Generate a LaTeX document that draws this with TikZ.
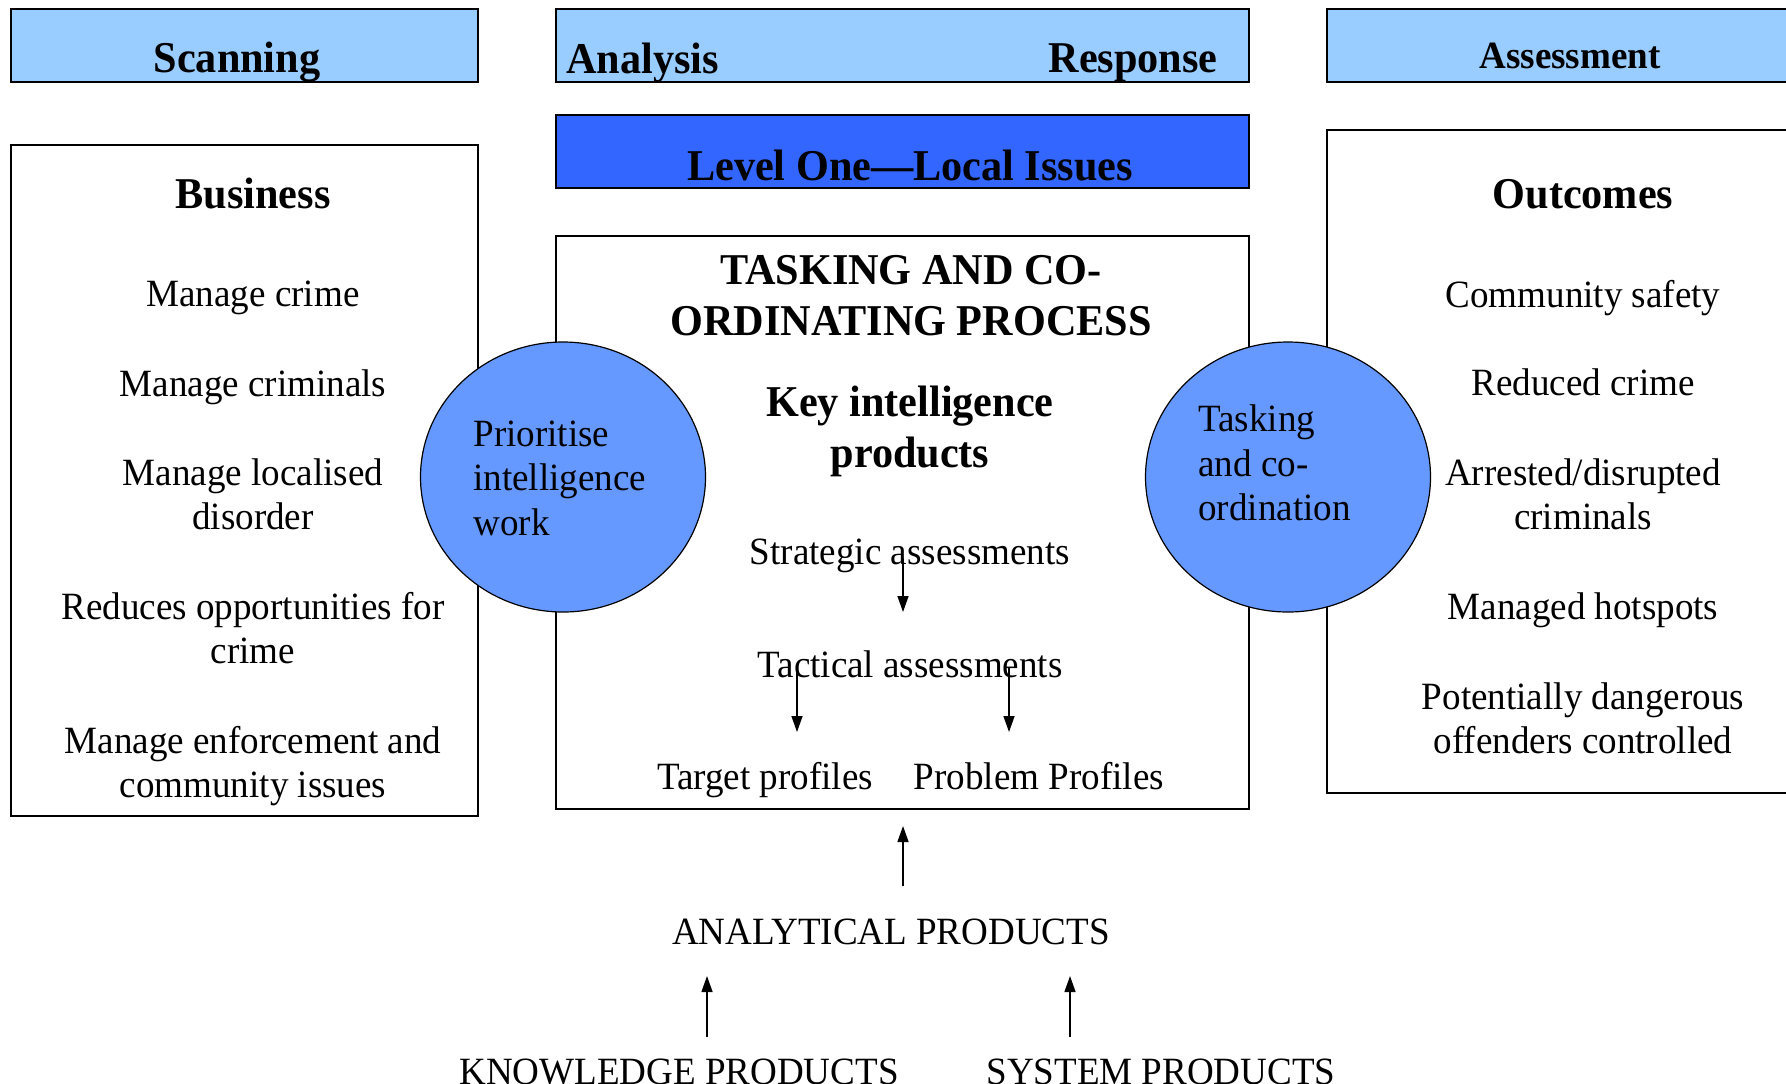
\documentclass[tikz,border=0pt]{standalone}
\usepackage{fontspec}
\setmainfont{Liberation Serif}[FakeStretch=0.96]
\usetikzlibrary{shapes.geometric,arrows.meta}
\definecolor{headblue}{HTML}{99CCFF}
\definecolor{levelblue}{HTML}{3366FF}
\definecolor{circblue}{HTML}{6699FF}
\begin{document}
\begin{tikzpicture}
      [ x=0.5pt, y=-0.5pt
      , box/.style={draw, line width=0.9pt, inner sep=0pt}
      , headbox/.style={box, fill=headblue, minimum height=36.5pt}
      , circ/.style={ellipse, draw, line width=0.6pt, fill=circblue, inner sep=0pt,
                     minimum width=142.5pt, minimum height=135pt}
      , txt/.style={font=\fontsize{19.3}{22.2}\selectfont, align=center, inner sep=0pt}
      , lefttxt/.style={txt, align=left, anchor=west}
      , big/.style={font=\fontsize{22}{25.5}\selectfont\bfseries, align=center, inner sep=0pt}
      , arr/.style={draw, -{Triangle[length=8pt,width=5.5pt]}, line width=0.7pt}
      ]
    \useasboundingbox (0,0) rectangle (1786,1083);

    % boxes
    \node[headbox, minimum width=233.5pt] (scanBox) at (244.5,45.5) {};
    \node[headbox, minimum width=346.5pt] (arBox) at (902.5,45.5) {};
    \node[headbox, minimum width=236.5pt] (assBox) at (1563.5,45.5) {};
    \node[box, fill=levelblue, minimum width=346.5pt, minimum height=36.5pt] (levelBox) at (902.5,151.5) {};
    \node[box, minimum width=233.5pt, minimum height=335.5pt] (busBox) at (244.5,480.5) {};
    \node[box, minimum width=346.5pt, minimum height=286.5pt] (tcBox) at (902.5,522.5) {};
    \node[box, minimum width=236.5pt, minimum height=331.5pt] (outBox) at (1563.5,461.5) {};

    \node[circ] (prioCirc) at (563,477) {};
    \node[circ] (taskCirc) at (1288,477) {};

    % headings
    \node[big] (scan) at (237,62) {Scanning};
    \node[big, anchor=west] (anal) at (566,63) {Analysis};
    \node[big, anchor=east] (resp) at (1218,63) {Response};
    \node[big, font=\fontsize{19.3}{22.2}\selectfont\bfseries] (ass) at (1570,56) {Assessment};
    \node[big] (level) at (910,165) {Level One—Local Issues};

    % business
    \node[big] (bus) at (253,193) {Business};
    \node[txt] (b1) at (253,298) {Manage crime};
    \node[txt] (b2) at (253,387) {Manage criminals};
    \node[txt] (b3) at (253,494) {Manage localised\\disorder};
    \node[txt] (b4) at (253,628) {Reduces opportunities for\\crime};
    \node[txt] (b5) at (253,766) {Manage enforcement and\\community issues};

    % outcomes
    \node[big] (out) at (1583,194) {Outcomes};
    \node[txt] (o1) at (1583,298) {Community safety};
    \node[txt] (o2) at (1583,382) {Reduced crime};
    \node[txt] (o3) at (1583,494) {Arrested/disrupted\\criminals};
    \node[txt] (o4) at (1583,610) {Managed hotspots};
    \node[txt] (o5) at (1583,718) {Potentially dangerous\\offenders controlled};

    % circles
    \node[lefttxt] (prio) at (473,478) {Prioritise\\intelligence\\work};
    \node[lefttxt] (task) at (1198,463) {Tasking\\and co-\\ordination};

    % process
    \node[big] (tc) at (911,296) {TASKING AND CO-\\ORDINATING PROCESS};
    \node[big] (key) at (910,431) {Key intelligence\\products};
    \node[txt] (strat) at (910,556) {Strategic assessments};
    \node[txt] (tact) at (910,664) {Tactical assessments};
    \node[txt] (target) at (765,780) {Target profiles};
    \node[txt] (prob) at (1039,776) {Problem Profiles};

    \coordinate (s1) at (903,558);
    \coordinate (s2) at (903,612);
    \coordinate (t1) at (797,668);
    \coordinate (t2) at (797,732);
    \coordinate (t3) at (1009,668);
    \coordinate (t4) at (1009,732);

    \path
    (s1) edge[arr] (s2)
    (t1) edge[arr] (t2)
    (t3) edge[arr] (t4);

    % products
    \node[txt] (ap) at (891,932) {ANALYTICAL PRODUCTS};
    \node[txt, anchor=base] (kp) at (679,1084) {KNOWLEDGE PRODUCTS};
    \node[txt, anchor=base] (sp) at (1161,1084) {SYSTEM PRODUCTS};

    \coordinate (a1) at (903,886);
    \coordinate (a2) at (903,826);
    \coordinate (k1) at (707,1037);
    \coordinate (k2) at (707,976);
    \coordinate (y1) at (1070,1037);
    \coordinate (y2) at (1070,976);

    \path
    (a1) edge[arr] (a2)
    (k1) edge[arr] (k2)
    (y1) edge[arr] (y2);

  \end{tikzpicture}
\end{document}
